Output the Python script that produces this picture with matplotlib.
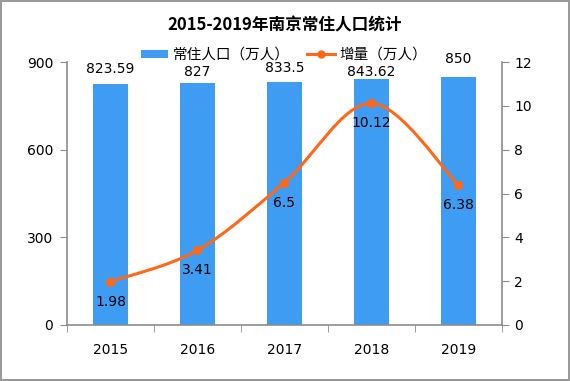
import numpy as np
import matplotlib
matplotlib.use("Agg")
import matplotlib.pyplot as plt
from matplotlib.path import Path
from matplotlib.patches import PathPatch, Patch
from matplotlib.lines import Line2D

plt.rcParams['font.family'] = ['Noto Sans CJK SC', 'DejaVu Sans']

years = ["2015", "2016", "2017", "2018", "2019"]
population = [823.59, 827, 833.5, 843.62, 850]
increase = [1.98, 3.41, 6.5, 10.12, 6.38]

BAR_COLOR = "#3E9DF2"
LINE_COLOR = "#FF6719"
AXIS_COLOR = "#8C8C8C"

fig = plt.figure(figsize=(5.7, 3.81), dpi=100)
fig.patch.set_edgecolor("#9A9A9A")
fig.patch.set_linewidth(1.5)
ax = fig.add_axes([0.1175, 0.147, 0.763, 0.690])
ax2 = ax.twinx()

x = np.arange(len(years))
ax.bar(x, population, width=0.40, color=BAR_COLOR, zorder=2)
ax.set_xlim(-0.5, len(years) - 0.5)
ax.set_ylim(0, 900)
ax.set_yticks([0, 300, 600, 900])
ax2.set_ylim(0, 12)
ax2.set_yticks(range(0, 13, 2))

# smoothed line (bezier through the data points, like an Excel smoothed line)
pts = np.column_stack([x, increase]).astype(float)
n = len(pts)
verts = [pts[0]]
codes = [Path.MOVETO]
for i in range(n - 1):
    p0 = pts[max(i - 1, 0)]
    p1 = pts[i]
    p2 = pts[i + 1]
    p3 = pts[min(i + 2, n - 1)]
    verts += [p1 + (p2 - p0) / 6, p2 - (p3 - p1) / 6, p2]
    codes += [Path.CURVE4] * 3
ax2.add_patch(PathPatch(Path(verts, codes), facecolor="none",
                        edgecolor=LINE_COLOR, lw=2.2, zorder=3))
ax2.plot(x, increase, "o", color=LINE_COLOR, ms=5.5, zorder=4)

# data labels (offsets picked to match the reference)
bar_off = [6, 3, 5, 0, 8]
for xi, v, off in zip(x, population, bar_off):
    ax.annotate(f"{v:g}", (xi, v), xytext=(0, off), textcoords="offset points",
                ha="center", va="bottom", fontsize=10, family="DejaVu Sans", zorder=5)
for xi, v in zip(x, increase):
    ax2.annotate(f"{v:g}", (xi, v), xytext=(0, -9.5), textcoords="offset points",
                 ha="center", va="top", fontsize=10, family="DejaVu Sans", zorder=5)

# axes styling
for a in (ax, ax2):
    a.spines["top"].set_visible(False)
    for s in ("left", "right", "bottom"):
        a.spines[s].set_color(AXIS_COLOR)
        a.spines[s].set_linewidth(1.2)
ax.spines["right"].set_visible(False)
ax2.spines["left"].set_visible(False)
ax2.spines["bottom"].set_visible(False)

ax.tick_params(axis="y", direction="out", length=5, color=AXIS_COLOR, labelsize=10, pad=5)
ax2.tick_params(axis="y", direction="out", length=5, color=AXIS_COLOR, labelsize=10, pad=4)
ax.set_xticks(x)
ax.set_xticklabels(years, fontsize=10, family="DejaVu Sans")
ax.tick_params(axis="x", which="major", length=0, pad=13)
ax.set_xticks(np.arange(-0.5, len(years)), minor=True)
ax.tick_params(axis="x", which="minor", direction="out", length=5, color=AXIS_COLOR)
for t in ax.get_yticklabels() + ax2.get_yticklabels():
    t.set_family("DejaVu Sans")

handles = [Patch(facecolor=BAR_COLOR, label="常住人口（万人）"),
           Line2D([0], [0], color=LINE_COLOR, lw=2.2, marker="o", ms=5, label="增量（万人）")]
fig.legend(handles=handles, loc="center", bbox_to_anchor=(0.498, 0.856), ncol=2, frameon=False,
           fontsize=10.5, handlelength=1.9, handleheight=0.5, columnspacing=1.2, handletextpad=0.3)

fig.text(0.5, 0.934, "2015-2019年南京常住人口统计", ha="center", va="center",
         fontsize=12, fontweight="bold")

fig.savefig("out.png", dpi=100)
